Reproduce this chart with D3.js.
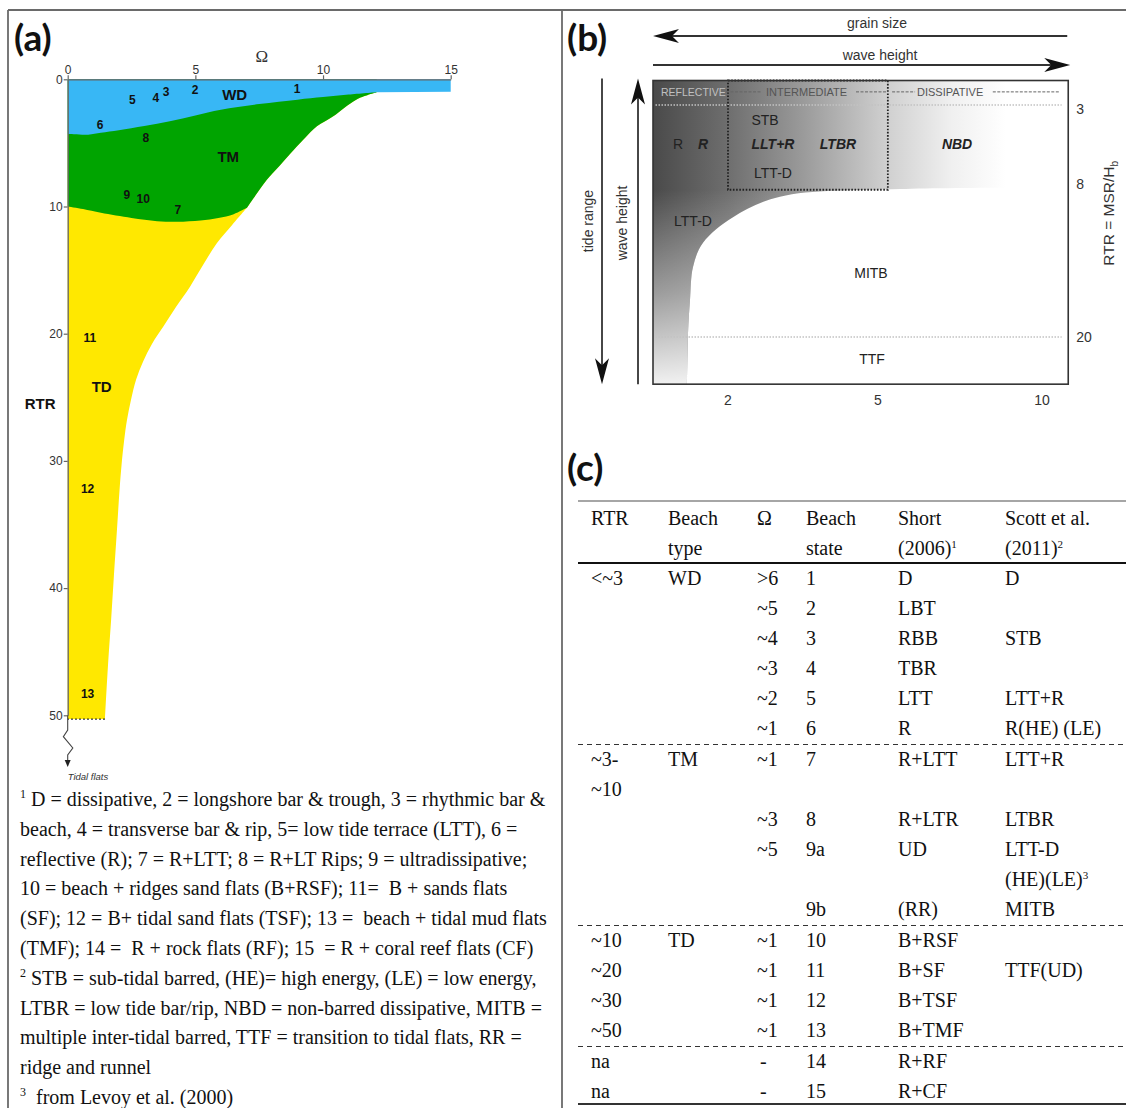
<!DOCTYPE html>
<html><head><meta charset="utf-8">
<script src="https://cdn.jsdelivr.net/npm/d3@7"></script>
<style>body{margin:0;background:#fff} svg{display:block} text{white-space:pre}</style>
</head><body><svg id="c" width="1126" height="1108"></svg>
<script>
// ================= DATA =================
// Panel (a): Omega (x) vs RTR (y) zones
const omegaTicksA = [0,5,10,15];
const rtrTicksA = [0,10,20,30,40,50];
const wdTmBoundary = [[0,4.3],[0.8,4.35],[1.3,4.2],[2,4.0],[3,3.67],[4,3.3],[5,2.85],[6,2.4],[7.5,1.95],[9,1.6],[10,1.4],[11,1.2],[12.1,1.02]];
const wdStrip = [[12.1,1.02],[15,0.97]];
const tmRightEdge = [[12.1,1.02],[11.3,1.6],[10.4,2.9],[9.76,3.7],[9.3,4.6],[8.85,5.56],[8.3,6.8],[7.8,7.9],[7.4,9.0],[7.02,10.1]];
const tmTdBoundary = [[0,10.0],[0.6,10.2],[1.3,10.5],[2.5,10.9],[3.5,11.15],[4.3,11.2],[5.2,11.1],[5.9,10.9],[6.5,10.6],[7.02,10.1]];
const tdRightEdge = [[7.02,10.1],[6.44,11.45],[5.84,12.89],[5.30,14.6],[4.79,16.3],[4.24,17.9],[3.74,19.45],[3.30,20.8],[2.95,22.2],[2.68,23.6],[2.48,25.2],[2.32,26.8],[2.21,28.4],[2.11,30.3],[2.03,32.3],[1.93,35.4],[1.81,39.0],[1.70,42.5],[1.58,46.0],[1.46,50.3]];
const tdBottom = [[1.46,50.3],[0,50.3]];
const tidalBreak = [[0,50],[0,51.16],[-0.17,51.68],[0.2,52.57],[0,53.12],[0,53.6]];
const stateNums = ["1","2","3","4","5","6","8","9","10","7","11","12","13"];
const stateOmega = [8.98,4.99,3.85,3.45,2.53,1.27,3.06,2.32,2.96,4.31,0.87,0.78,0.78];
const stateRTR = [0.71,0.84,1.0,1.45,1.63,3.54,4.56,9.1,9.36,10.27,20.3,32.2,48.3];
const zoneNames = ["WD","TM","TD"];
const zoneOmega = [6.54,6.29,1.33];
const zoneRTR = [1.18,6.08,24.2];
const footnotes = [
 "^1 D = dissipative, 2 = longshore bar & trough, 3 = rhythmic bar &",
 "beach, 4 = transverse bar & rip, 5= low tide terrace (LTT), 6 =",
 "reflective (R); 7 = R+LTT; 8 = R+LT Rips; 9 = ultradissipative;",
 "10 = beach + ridges sand flats (B+RSF); 11=  B + sands flats",
 "(SF); 12 = B+ tidal sand flats (TSF); 13 =  beach + tidal mud flats",
 "(TMF); 14 =  R + rock flats (RF); 15  = R + coral reef flats (CF)",
 "^2 STB = sub-tidal barred, (HE)= high energy, (LE) = low energy,",
 "LTBR = low tide bar/rip, NBD = non-barred dissipative, MITB =",
 "multiple inter-tidal barred, TTF = transition to tidal flats, RR =",
 "ridge and runnel",
 "^3  from Levoy et al. (2000)"
];

// Panel (b): schematic Omega vs RTR
const omegaTicksB = [2,5,10];
const rtrTicksB = [3,8,20];
const boxOmega = [0.5,10.8];
const boxRTR = [1.45,23.7];
const intermOmega = [2,5.3];
const intermRTR = [1.45,8.45];
const mitbEdge = [[10.8,8.3],[5.67,8.4],[3.04,9.0],[2.1,10.6],[1.5,12.6],[1.3,14.5],[1.24,17.1],[1.2,19.7],[1.18,23.7]];
const bLabels = ["STB","R","R","LLT+R","LTBR","NBD","LTT-D","LTT-D","MITB","TTF"];
const bLabelOmega = [2.74,1.0,1.5,2.9,4.2,7.41,2.9,1.3,4.86,4.88];
const bLabelRTR = [3.96,5.45,5.45,5.45,5.45,5.45,7.3,10.9,15.0,21.7];
const bLabelBoldItalic = [false,false,true,true,true,true,false,false,false,false];
const zoneHeads = ["REFLECTIVE","INTERMEDIATE","DISSIPATIVE"];
const zoneHeadOmega = [0.66,2.76,6.19];
const zoneHeadDashes = [[1.96,2.68],[4.56,5.27],[5.43,6.13],[8.5,10.55]];

// Panel (c): table
const headLine1 = ["RTR","Beach","Ω","Beach","Short","Scott et al."];
const headLine2 = ["","type","","state","(2006)^1","(2011)^2"];
const colRTR   = ["<~3","","","","","","~3-","~10","","","","","~10","~20","~30","~50","na","na"];
const colType  = ["WD","","","","","","TM","","","","","","TD","","","","",""];
const colOmega = [">6","~5","~4","~3","~2","~1","~1","","~3","~5","","","~1","~1","~1","~1","-","-"];
const colState = ["1","2","3","4","5","6","7","","8","9a","","9b","10","11","12","13","14","15"];
const colShort = ["D","LBT","RBB","TBR","LTT","R","R+LTT","","R+LTR","UD","","(RR)","B+RSF","B+SF","B+TSF","B+TMF","R+RF","R+CF"];
const colScott = ["D","","STB","","LTT+R","R(HE) (LE)","LTT+R","","LTBR","LTT-D","(HE)(LE)^3","MITB","","TTF(UD)","","","",""];
const dashedAfter = [5,11,15];

// ================= DRAW =================
const svg = d3.select("#c");
const W = 1126, H = 1108;
const SANS = "Liberation Sans, Arial, sans-serif";
const SERIF = "Liberation Serif, Times New Roman, serif";

function rich(textSel, str, supSize, supDy){
  const parts = str.split(/\^(\d)/);
  let pend = 0;
  parts.forEach((p,i)=>{
    if(p==="") return;
    if(i%2===1){
      textSel.append("tspan").attr("font-size",supSize).attr("dy",-supDy + pend).text(p);
      pend = supDy;
    } else {
      const ts = textSel.append("tspan").text(p);
      if(pend) ts.attr("dy",pend);
      pend = 0;
    }
  });
}

// frame
const fr = svg.append("g").attr("stroke","#6a6a6a").attr("stroke-width",1.8);
fr.append("line").attr("x1",8).attr("y1",10).attr("x2",W).attr("y2",10);
fr.append("line").attr("x1",8).attr("y1",10).attr("x2",8).attr("y2",H);
fr.append("line").attr("x1",562).attr("y1",10).attr("x2",562).attr("y2",H);

// panel letters
[["(a)",14,51],["(b)",567,51],["(c)",567,481]].forEach(d=>{
  svg.append("text").attr("x",d[1]).attr("y",d[2]).text(d[0])
    .attr("font-family","Lato, Open Sans, sans-serif").attr("font-weight",700).attr("font-size",37).attr("fill","#111");
});

// ---------- panel (a) ----------
const xa = d3.scaleLinear().domain([0,15]).range([67.7,450.7]);
const ya = d3.scaleLinear().domain([0,50]).range([79.3,715.3]);
const lineA = d3.line().x(d=>xa(d[0])).y(d=>ya(d[1]));
const curveA = d3.line().x(d=>xa(d[0])).y(d=>ya(d[1])).curve(d3.curveCatmullRom.alpha(0.5));
function join(parts){ return parts.map((p,i)=> i===0 ? p : p.replace(/^M/,"L")).join("") + "Z"; }
const rev = a => a.slice().reverse();
const ga = svg.append("g");
ga.append("path").attr("fill","#ffe800").attr("d", join([lineA([[0,0],[12.1,0]]), curveA(tmRightEdge), curveA(tdRightEdge), lineA(tdBottom)]));
ga.append("path").attr("fill","#00a400").attr("d", join([lineA([[0,0],[12.1,0]]), curveA(tmRightEdge), curveA(rev(tmTdBoundary))]));
ga.append("path").attr("fill","#38b7f5").attr("d", join([lineA([[0,0],[15,0],[15,0.97]]), lineA(rev(wdStrip)), curveA(rev(wdTmBoundary))]));
ga.append("path").attr("fill","none").attr("stroke","#333").attr("stroke-width",1.2).attr("stroke-dasharray","2,2").attr("d", lineA(tdBottom));

// axes
const axT = ga.append("g").attr("transform",`translate(0,${ya(0)})`)
  .call(d3.axisTop(xa).tickValues(omegaTicksA).tickSize(4).tickSizeOuter(0));
const axL = ga.append("g").attr("transform",`translate(${xa(0)},0)`)
  .call(d3.axisLeft(ya).tickValues(rtrTicksA).tickSize(4).tickSizeOuter(0));
[axT,axL].forEach(a=>{
  a.select(".domain").attr("stroke","#666").attr("stroke-width",1.3);
  a.selectAll(".tick line").attr("stroke","#666").attr("stroke-width",1.2);
  a.selectAll(".tick text").attr("font-family",SANS).attr("font-size",12).attr("fill","#333");
});
axT.selectAll(".tick text").attr("y",-5);
axL.selectAll(".tick text").attr("x",-5);
ga.append("text").attr("x",xa(7.6)).attr("y",ya(0)-17).text("Ω")
  .attr("font-family",SERIF).attr("font-size",17).attr("fill","#333").attr("text-anchor","middle");
ga.append("text").attr("x",xa(-1.08)).attr("y",ya(25.5)).text("RTR").attr("dy","0.35em")
  .attr("font-family",SANS).attr("font-weight",700).attr("font-size",15).attr("fill","#111").attr("text-anchor","middle");
// tidal flats break + arrow
ga.append("path").attr("fill","none").attr("stroke","#444").attr("stroke-width",1.1).attr("d", lineA(tidalBreak));
const tipY = ya(54.06), tx = xa(0);
ga.append("path").attr("fill","#222").attr("d",`M${tx},${tipY}L${tx-3},${tipY-7}L${tx+3},${tipY-7}Z`);
ga.append("text").attr("x",xa(0)).attr("y",ya(55.1)).text("Tidal flats")
  .attr("font-family",SANS).attr("font-style","italic").attr("font-size",9.5).attr("fill","#333");
// state numbers
stateNums.forEach((t,i)=>{
  ga.append("text").attr("x",xa(stateOmega[i])).attr("y",ya(stateRTR[i])).attr("dy","0.35em").text(t)
    .attr("font-family",SANS).attr("font-weight",700).attr("font-size",12).attr("fill","#111").attr("text-anchor","middle");
});
zoneNames.forEach((t,i)=>{
  ga.append("text").attr("x",xa(zoneOmega[i])).attr("y",ya(zoneRTR[i])).attr("dy","0.35em").text(t)
    .attr("font-family",SANS).attr("font-weight",700).attr("font-size",15).attr("fill","#111").attr("text-anchor","middle");
});
// footnotes
footnotes.forEach((s,i)=>{
  const t = svg.append("text").attr("x",20).attr("y",806 + i*29.8)
    .attr("font-family",SERIF).attr("font-size",20).attr("fill","#111");
  rich(t, s, 12, 8);
});

// ---------- panel (b) ----------
const xb = d3.scaleLinear().domain([2,5,10]).range([728,878,1042]);
const yb = d3.scaleLinear().domain([3,8,20]).range([105,184,337]);
const gb = svg.append("g");
const defs = svg.append("defs");
const hg = defs.append("linearGradient").attr("id","hgrad").attr("gradientUnits","userSpaceOnUse")
  .attr("x1",xb(boxOmega[0])).attr("x2",xb(boxOmega[1])).attr("y1",0).attr("y2",0);
[[0,"#4a4a4a"],[0.18,"#6e6e6e"],[0.36,"#9a9a9a"],[0.56,"#cfcfcf"],[0.72,"#f0f0f0"],[0.85,"#ffffff"]]
  .forEach(s=>hg.append("stop").attr("offset",s[0]).attr("stop-color",s[1]));
const vg = defs.append("linearGradient").attr("id","vgrad").attr("gradientUnits","userSpaceOnUse")
  .attr("x1",0).attr("x2",0).attr("y1",yb(boxRTR[0])).attr("y2",yb(boxRTR[1]));
[[0,0],[0.36,0],[0.7,0.45],[1,0.92]]
  .forEach(s=>vg.append("stop").attr("offset",s[0]).attr("stop-color","#fff").attr("stop-opacity",s[1]));
const lineB = d3.line().x(d=>xb(d[0])).y(d=>yb(d[1]));
const curveB = d3.line().x(d=>xb(d[0])).y(d=>yb(d[1])).curve(d3.curveCatmullRom.alpha(0.5));
const greyPath = join([lineB([[boxOmega[0],boxRTR[0]],[boxOmega[1],boxRTR[0]],[boxOmega[1],8.3]]), curveB(mitbEdge), lineB([[1.18,boxRTR[1]],[boxOmega[0],boxRTR[1]]])]);
gb.append("path").attr("d",greyPath).attr("fill","url(#hgrad)");
gb.append("path").attr("d",greyPath).attr("fill","url(#vgrad)");
// dotted RTR lines
[3,20].forEach(r=>{
  gb.append("path").attr("d",lineB([[0.55,r],[10.6,r]])).attr("stroke","#c2c2c2").attr("stroke-width",1.6).attr("stroke-dasharray","1.5,1.5").attr("fill","none");
});
// intermediate box
gb.append("rect").attr("x",xb(intermOmega[0])).attr("y",yb(intermRTR[0]))
  .attr("width",xb(intermOmega[1])-xb(intermOmega[0])).attr("height",yb(intermRTR[1])-yb(intermRTR[0]))
  .attr("fill","none").attr("stroke","#222").attr("stroke-width",1.8).attr("stroke-dasharray","1.6,1.6");
// outer box
gb.append("rect").attr("x",xb(boxOmega[0])).attr("y",yb(boxRTR[0]))
  .attr("width",xb(boxOmega[1])-xb(boxOmega[0])).attr("height",yb(boxRTR[1])-yb(boxRTR[0]))
  .attr("fill","none").attr("stroke","#333").attr("stroke-width",1.6);
// zone heads
const headY = yb(2.17);
zoneHeads.forEach((t,i)=>{
  gb.append("text").attr("x",xb(zoneHeadOmega[i])).attr("y",headY).attr("dy","0.35em").text(t)
    .attr("font-family",SANS).attr("font-size",i===0?10.5:11).attr("fill",i===0?"#c0c0c0":"#555");
});
zoneHeadDashes.forEach(d=>{
  gb.append("path").attr("d",lineB([[d[0],2.17],[d[1],2.17]])).attr("stroke","#666").attr("stroke-width",1)
    .attr("stroke-dasharray","3,1.5").attr("fill","none");
});
// labels
bLabels.forEach((t,i)=>{
  gb.append("text").attr("x",xb(bLabelOmega[i])).attr("y",yb(bLabelRTR[i])).attr("dy","0.35em").text(t)
    .attr("font-family",SANS).attr("font-size",14).attr("fill","#222").attr("text-anchor","middle")
    .attr("font-weight",bLabelBoldItalic[i]?700:400).attr("font-style",bLabelBoldItalic[i]?"italic":"normal");
});
// ticks
omegaTicksB.forEach(v=>{
  gb.append("text").attr("x",xb(v)).attr("y",yb(boxRTR[1])+16).attr("dy","0.35em").text(v)
    .attr("font-family",SANS).attr("font-size",14).attr("fill","#333").attr("text-anchor","middle");
});
rtrTicksB.forEach(v=>{
  gb.append("text").attr("x",xb(boxOmega[1])+8).attr("y",yb(v)+(v===3?4:0)).attr("dy","0.35em").text(v)
    .attr("font-family",SANS).attr("font-size",14).attr("fill","#333");
});
const rtrT = gb.append("text").attr("transform",`translate(${xb(boxOmega[1])+40},${yb(10.3)}) rotate(-90)`)
  .attr("text-anchor","middle").attr("dy","0.35em").attr("font-family",SANS).attr("font-size",15.5).attr("fill","#333");
rtrT.append("tspan").text("RTR = MSR/H");
rtrT.append("tspan").attr("font-size",10).attr("dy",4).text("b");
// arrows
const bx0 = xb(boxOmega[0]), bx1 = xb(boxOmega[1]), by0 = yb(boxRTR[0]), by1 = yb(boxRTR[1]);
function arrowHead(x,y,dir){
  const L=26, w=7, n=7;
  const m = {l:[1,0],r:[-1,0],u:[0,1],d:[0,-1]}[dir];
  const px = -m[1], py = m[0];
  const bx = x+m[0]*L, by = y+m[1]*L, nx = x+m[0]*(L-n), ny = y+m[1]*(L-n);
  return `M${x},${y}L${bx+px*w},${by+py*w}L${nx},${ny}L${bx-px*w},${by-py*w}Z`;
}
const ar = gb.append("g");
ar.append("line").attr("x1",bx0+10).attr("y1",36).attr("x2",bx1-1).attr("y2",36).attr("stroke","#333").attr("stroke-width",1.8);
ar.append("path").attr("d",arrowHead(bx0,36,"l")).attr("fill","#111");
ar.append("text").attr("x",877).attr("y",28).text("grain size").attr("font-family",SANS).attr("font-size",14).attr("fill","#333").attr("text-anchor","middle");
ar.append("line").attr("x1",bx0).attr("y1",65).attr("x2",bx1-8).attr("y2",65).attr("stroke","#333").attr("stroke-width",1.8);
ar.append("path").attr("d",arrowHead(bx1+2,65,"r")).attr("fill","#111");
ar.append("text").attr("x",880).attr("y",60).text("wave height").attr("font-family",SANS).attr("font-size",14).attr("fill","#333").attr("text-anchor","middle");
ar.append("line").attr("x1",602).attr("y1",by0-2).attr("x2",602).attr("y2",by1-10).attr("stroke","#333").attr("stroke-width",1.8);
ar.append("path").attr("d",arrowHead(602,by1,"d")).attr("fill","#111");
ar.append("text").attr("transform",`translate(588,221) rotate(-90)`).attr("dy","0.35em").text("tide range")
  .attr("font-family",SANS).attr("font-size",14).attr("fill","#333").attr("text-anchor","middle");
ar.append("line").attr("x1",638).attr("y1",by1).attr("x2",638).attr("y2",by0+10).attr("stroke","#333").attr("stroke-width",1.8);
ar.append("path").attr("d",arrowHead(638,by0-2,"u")).attr("fill","#111");
ar.append("text").attr("transform",`translate(622,223) rotate(-90)`).attr("dy","0.35em").text("wave height")
  .attr("font-family",SANS).attr("font-size",14).attr("fill","#333").attr("text-anchor","middle");

// ---------- panel (c) ----------
const gc = svg.append("g").attr("font-family",SERIF).attr("font-size",20).attr("fill","#111");
const colX = [591,668,757,806,898,1005];
const tx0 = 578;
gc.append("line").attr("x1",tx0).attr("x2",W).attr("y1",501).attr("y2",501).attr("stroke","#888").attr("stroke-width",1.5);
gc.append("line").attr("x1",tx0).attr("x2",W).attr("y1",563).attr("y2",563).attr("stroke","#111").attr("stroke-width",2);
headLine1.forEach((t,i)=>{ rich(gc.append("text").attr("x",colX[i]).attr("y",525), t, 11, 7); });
headLine2.forEach((t,i)=>{ if(t) rich(gc.append("text").attr("x",colX[i]).attr("y",555), t, 11, 7); });
const rowY = i => 585 + i*30 + dashedAfter.filter(d=>d<i).length;
const cols = [colRTR,colType,colOmega,colState,colShort,colScott];
cols.forEach((col,c)=>{
  col.forEach((v,i)=>{
    if(!v) return;
    const t = gc.append("text").attr("x", c===2 && v==="-" ? colX[c]+3 : colX[c]).attr("y",rowY(i));
    rich(t, v, 11, 7);
  });
});
dashedAfter.forEach(i=>{
  const y = (rowY(i)+rowY(i+1))/2 - 6;
  gc.append("line").attr("x1",tx0).attr("x2",W).attr("y1",y).attr("y2",y).attr("stroke","#333").attr("stroke-width",1.1).attr("stroke-dasharray","5,4");
});
gc.append("line").attr("x1",tx0).attr("x2",W).attr("y1",1104).attr("y2",1104).attr("stroke","#333").attr("stroke-width",2);
</script></body></html>
